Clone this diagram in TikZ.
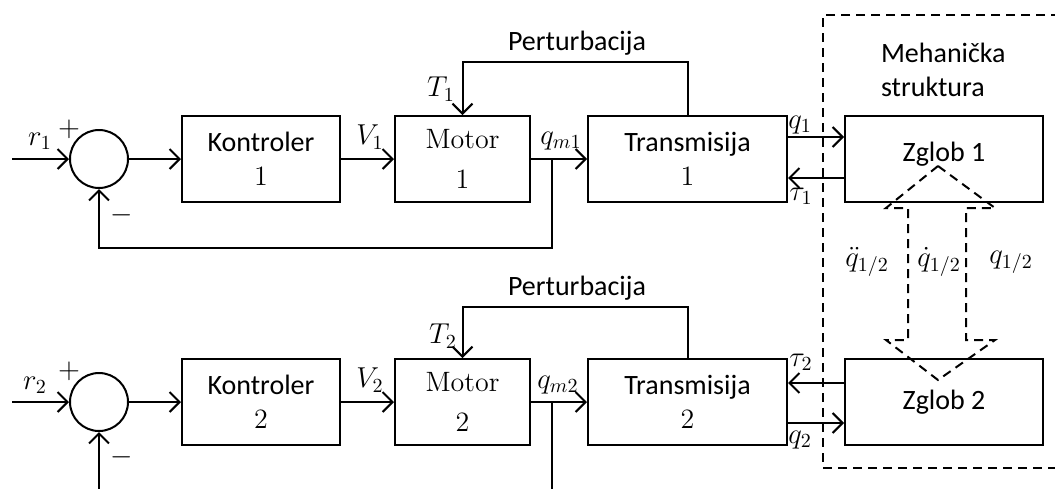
\documentclass[tikz,border=0pt]{standalone}
\usepackage{fontspec}
\newfontfamily\carl{Carlito}
\usetikzlibrary{arrows.meta,calc}
\begin{document}
\begin{tikzpicture}[x=0.5pt,y=-0.5pt,line width=1pt,
  blk/.style={draw,rectangle,minimum height=43pt,align=center,inner sep=0pt,font=\fontsize{14}{16}\selectfont},
  sumc/.style={draw,circle,minimum size=29pt,inner sep=0pt},
  arr/.style={-{Straight Barb[length=5pt,width=10pt]}},
  lbl/.style={font=\fontsize{14}{16}\selectfont,inner sep=0pt},
  txt/.style={font=\carl\fontsize{14}{17}\selectfont,inner sep=0pt},
  dsh/.style={dash pattern=on 4.5pt off 3pt}]
\useasboundingbox (0,0) rectangle (1055,488);
% ---------- row 1
\node[sumc] (S1) at (99,159) {};
\node[blk,minimum width=79pt] (K1) at (261,159) {{\carl Kontroler}\\[1pt]1};
\node[blk,minimum width=67.5pt] (M1) at (462.5,159) {Motor\\[4pt]1};
\node[blk,minimum width=99.5pt] (T1) at (687.5,159) {{\carl Transmisija}\\[1pt]1};
\node[blk,minimum width=99pt] (Z1) at (944,159) {\raisebox{7pt}{\carl Zglob 1}};
% ---------- row 2
\node[sumc] (S2) at (99,402) {};
\node[blk,minimum width=79pt] (K2) at (261,402) {{\carl Kontroler}\\[1pt]2};
\node[blk,minimum width=67.5pt] (M2) at (462.5,402) {Motor\\[4pt]2};
\node[blk,minimum width=99.5pt] (T2) at (687.5,402) {{\carl Transmisija}\\[1pt]2};
\node[blk,minimum width=99pt] (Z2) at (944,402) {\carl Zglob 2};
% ---------- coordinates
\coordinate (in1) at (12,159);
\coordinate (in2) at (12,402);
\coordinate (b1) at (552,159);
\coordinate (fb1) at (552,248);
\coordinate (b2) at (552,402);
\coordinate (fb2) at (552,490);
\coordinate (fs2) at (99,490);
\coordinate (p1) at (577,62);
\coordinate (p2) at (577,307);
% ---------- connectors row 1
\draw[arr] (in1) -- (S1.west);
\draw[arr] (S1.east) -- (K1.west);
\draw[arr] (K1.east) -- (M1.west);
\draw[arr] (M1.east) -- (T1.west);
\draw[arr] (b1) -- (fb1) -| (S1.south);
\draw[arr] (T1.north) |- (p1) -| (M1.north);
\draw[arr] ([yshift=11pt]T1.east) -- ([yshift=11pt]Z1.west);
\draw[arr] ([yshift=-9.5pt]Z1.west) -- ([yshift=-9.5pt]T1.east);
% ---------- connectors row 2
\draw[arr] (in2) -- (S2.west);
\draw[arr] (S2.east) -- (K2.west);
\draw[arr] (K2.east) -- (M2.west);
\draw[arr] (M2.east) -- (T2.west);
\draw (b2) -- (fb2);
\draw[arr] (fs2) -- (S2.south);
\draw[arr] (T2.north) |- (p2) -| (M2.north);
\draw[arr] ([yshift=9.5pt]Z2.west) -- ([yshift=9.5pt]T2.east);
\draw[arr] ([yshift=-10.5pt]T2.east) -- ([yshift=-10.5pt]Z2.west);
% ---------- labels
\node[lbl] at (40,141) {$r_1$};
\node[lbl] at (35,385) {$r_2$};
\node[lbl] at (69,129) {$+$};
\node[lbl] at (69,371) {$+$};
\node[lbl] at (122,215) {$-$};
\node[lbl] at (122,457) {$-$};
\node[lbl] at (370,137) {$V_1$};
\node[lbl] at (370,380) {$V_2$};
\node[lbl] at (441,89) {$T_1$};
\node[lbl] at (443,336) {$T_2$};
\node[lbl] at (561,141) {$q_{m1}$};
\node[lbl] at (558,385) {$q_{m2}$};
\node[lbl] at (800,125) {$q_1$};
\node[lbl] at (801,196) {$\tau_1$};
\node[lbl] at (801,362) {$\tau_2$};
\node[lbl] at (800,440) {$q_2$};
\node[txt] at (577,43) {Perturbacija};
\node[txt] at (577,288) {Perturbacija};
\node[txt,align=left,anchor=west] at (880,70) {Mehanička\\struktura};
% ---------- mechanical structure
\draw[dsh] (1060,15) -- (823,15) -- (823,468) -- (1060,468);
\draw[dsh] (938,166) -- (995,208) -- (966,208) -- (966,340) -- (995,340) -- (938,380)
  -- (886,340) -- (908,340) -- (908,208) -- (886,208) -- cycle;
\node[lbl] at (867,262) {$\ddot{q}_{1/2}$};
\node[lbl] at (939,262) {$\dot{q}_{1/2}$};
\node[lbl] at (1011,262) {$q_{1/2}$};
\end{tikzpicture}
\end{document}
